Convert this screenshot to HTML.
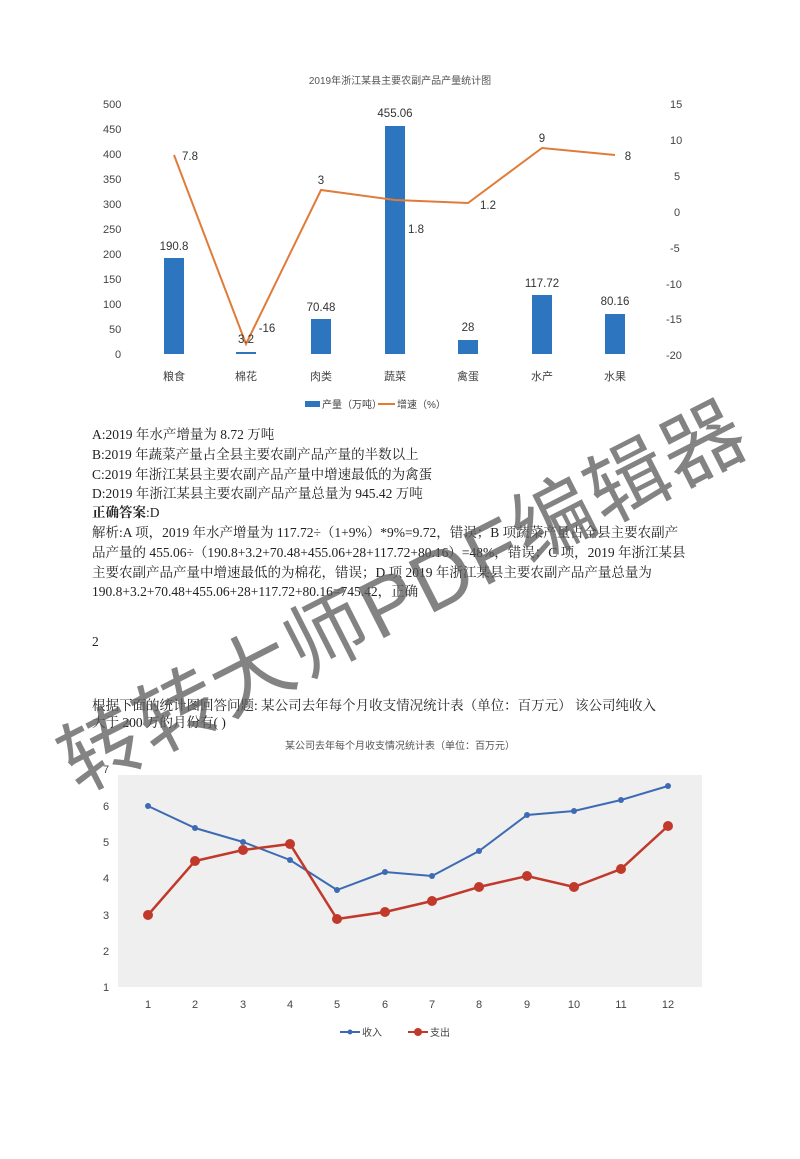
<!DOCTYPE html>
<html><head><meta charset="utf-8"><style>
body{margin:0;width:800px;height:1159px;background:#fff;position:relative;overflow:hidden;font-family:"Liberation Serif","Noto Serif CJK SC",serif;}
.t{position:absolute;left:92px;font-size:13.5px;color:#222;white-space:nowrap;}
svg text{font-family:"Liberation Sans","Noto Sans CJK SC",sans-serif;}
.wm{position:absolute;left:400px;top:590px;transform:translate(-50%,-50%) rotate(-27deg);font-family:"Liberation Sans","Noto Sans CJK SC",sans-serif;font-size:82px;color:rgba(90,90,90,0.75);white-space:nowrap;letter-spacing:2px;}
</style></head><body>
<svg width="800" height="1159" style="position:absolute;left:0;top:0">
<text x="400" y="84" font-size="10" fill="#555" text-anchor="middle">2019年浙江某县主要农副产品产量统计图</text>
<g font-size="11" fill="#444" text-anchor="start">
<text x="103" y="108">500</text><text x="103" y="133">450</text><text x="103" y="158">400</text><text x="103" y="183">350</text><text x="103" y="208">300</text><text x="103" y="233">250</text><text x="103" y="258">200</text><text x="103" y="283">150</text><text x="103" y="308">100</text><text x="109" y="333">50</text><text x="115" y="358">0</text>
<text x="670" y="108">15</text><text x="670" y="144">10</text><text x="674" y="180">5</text><text x="674" y="216">0</text><text x="670" y="252">-5</text><text x="666" y="288">-10</text><text x="666" y="323">-15</text><text x="666" y="359">-20</text>
</g>
<g fill="#2e75c0">
<rect x="164" y="258" width="20" height="96"/><rect x="236" y="352" width="20" height="2"/><rect x="311" y="319" width="20" height="35"/><rect x="385" y="126" width="20" height="228"/><rect x="458" y="340" width="20" height="14"/><rect x="532" y="295" width="20" height="59"/><rect x="605" y="314" width="20" height="40"/>
</g>
<polyline fill="none" stroke="#e07b39" stroke-width="2" points="174,155 246,344 321,190 395,200 468,203 542,148 615,155"/>
<g font-size="11.5" fill="#333" text-anchor="middle">
<text x="174" y="250">190.8</text><text x="246" y="343">3.2</text><text x="321" y="311">70.48</text><text x="395" y="117">455.06</text><text x="468" y="331">28</text><text x="542" y="287">117.72</text><text x="615" y="305">80.16</text>
<text x="190" y="160">7.8</text><text x="267" y="332">-16</text><text x="321" y="184">3</text><text x="416" y="233">1.8</text><text x="488" y="209">1.2</text><text x="542" y="142">9</text><text x="628" y="160">8</text>
</g>
<g font-size="11" fill="#444" text-anchor="middle">
<text x="174" y="380">粮食</text><text x="246" y="380">棉花</text><text x="321" y="380">肉类</text><text x="395" y="380">蔬菜</text><text x="468" y="380">禽蛋</text><text x="542" y="380">水产</text><text x="615" y="380">水果</text>
</g>
<rect x="305" y="401" width="15" height="6" fill="#2e75c0"/><text x="322" y="408" font-size="10" fill="#444">产量（万吨）</text>
<line x1="378" y1="404" x2="395" y2="404" stroke="#e07b39" stroke-width="2"/><text x="397" y="408" font-size="10" fill="#444">增速（%）</text>

<text x="400" y="749" font-size="10" fill="#555" text-anchor="middle">某公司去年每个月收支情况统计表（单位：百万元）</text>
<rect x="118" y="775" width="584" height="212" fill="#efefef"/>
<g font-size="11" fill="#444">
<text x="103" y="773">7</text><text x="103" y="810">6</text><text x="103" y="846">5</text><text x="103" y="882">4</text><text x="103" y="919">3</text><text x="103" y="955">2</text><text x="103" y="991">1</text>
</g>
<g font-size="11" fill="#444" text-anchor="middle">
<text x="148" y="1008">1</text><text x="195" y="1008">2</text><text x="243" y="1008">3</text><text x="290" y="1008">4</text><text x="337" y="1008">5</text><text x="385" y="1008">6</text><text x="432" y="1008">7</text><text x="479" y="1008">8</text><text x="527" y="1008">9</text><text x="574" y="1008">10</text><text x="621" y="1008">11</text><text x="668" y="1008">12</text>
</g>
<polyline fill="none" stroke="#3d6bb3" stroke-width="2" points="148,806 195,828 243,842 290,860 337,890 385,872 432,876 479,851 527,815 574,811 621,800 668,786"/>
<g fill="#3d6bb3"><circle cx="148" cy="806" r="3"/><circle cx="195" cy="828" r="3"/><circle cx="243" cy="842" r="3"/><circle cx="290" cy="860" r="3"/><circle cx="337" cy="890" r="3"/><circle cx="385" cy="872" r="3"/><circle cx="432" cy="876" r="3"/><circle cx="479" cy="851" r="3"/><circle cx="527" cy="815" r="3"/><circle cx="574" cy="811" r="3"/><circle cx="621" cy="800" r="3"/><circle cx="668" cy="786" r="3"/></g>
<polyline fill="none" stroke="#c0392b" stroke-width="2.5" points="148,915 195,861 243,850 290,844 337,919 385,912 432,901 479,887 527,876 574,887 621,869 668,826"/>
<g fill="#c0392b"><circle cx="148" cy="915" r="5"/><circle cx="195" cy="861" r="5"/><circle cx="243" cy="850" r="5"/><circle cx="290" cy="844" r="5"/><circle cx="337" cy="919" r="5"/><circle cx="385" cy="912" r="5"/><circle cx="432" cy="901" r="5"/><circle cx="479" cy="887" r="5"/><circle cx="527" cy="876" r="5"/><circle cx="574" cy="887" r="5"/><circle cx="621" cy="869" r="5"/><circle cx="668" cy="826" r="5"/></g>
<line x1="340" y1="1032" x2="360" y2="1032" stroke="#3d6bb3" stroke-width="2"/><circle cx="350" cy="1032" r="2.5" fill="#3d6bb3"/><text x="362" y="1036" font-size="10" fill="#444">收入</text>
<line x1="408" y1="1032" x2="428" y2="1032" stroke="#c0392b" stroke-width="2"/><circle cx="418" cy="1032" r="4" fill="#c0392b"/><text x="430" y="1036" font-size="10" fill="#444">支出</text>
</svg>
<div class="t" style="top:423px">A:2019 年水产增量为 8.72 万吨</div>
<div class="t" style="top:443px">B:2019 年蔬菜产量占全县主要农副产品产量的半数以上</div>
<div class="t" style="top:463px">C:2019 年浙江某县主要农副产品产量中增速最低的为禽蛋</div>
<div class="t" style="top:482px">D:2019 年浙江某县主要农副产品产量总量为 945.42 万吨</div>
<div class="t" style="top:501px"><b>正确答案</b>:D</div>
<div class="t" style="top:521px">解析:A 项，2019 年水产增量为 117.72÷（1+9%）*9%=9.72，错误；B 项蔬菜产量占全县主要农副产</div>
<div class="t" style="top:541px">品产量的 455.06÷（190.8+3.2+70.48+455.06+28+117.72+80.16）=48%，错误；C 项，2019 年浙江某县</div>
<div class="t" style="top:561px">主要农副产品产量中增速最低的为棉花，错误；D 项 2019 年浙江某县主要农副产品产量总量为</div>
<div class="t" style="top:580px">190.8+3.2+70.48+455.06+28+117.72+80.16=745.42，正确</div>
<div class="t" style="top:634px">2</div>
<div class="t" style="top:694px">根据下面的统计图回答问题: 某公司去年每个月收支情况统计表（单位：百万元） 该公司纯收入</div>
<div class="t" style="top:711px">大于 200 万的月份有( )</div>
<div class="wm">转转大师PDF编辑器</div>
</body></html>
